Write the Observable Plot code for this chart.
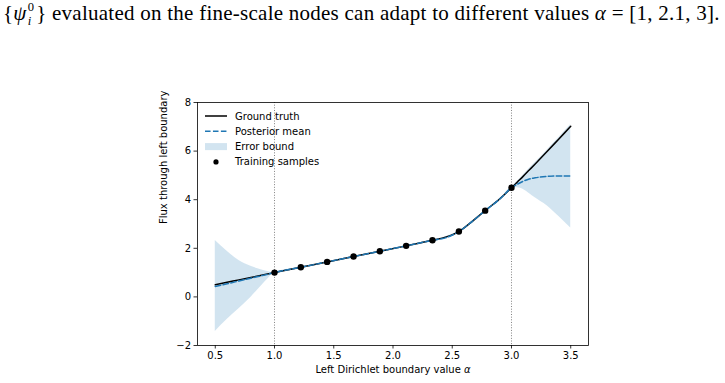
<!DOCTYPE html>
<html>
<head>
<meta charset="utf-8">
<script src="https://cdn.jsdelivr.net/npm/d3@7"></script>
<script src="https://cdn.jsdelivr.net/npm/@observablehq/plot@0.6"></script>
<style>
  html, body { margin: 0; padding: 0; background: #fff; }
  #page { position: relative; width: 725px; height: 383px; overflow: hidden; background: #fff; }
  #caption {
    position: absolute; left: 3px; top: 0px; height: 40px;
    white-space: nowrap; font-family: "Liberation Serif", "DejaVu Serif", serif;
    font-size: 21px; line-height: 1.2; color: #000;
  }
  #caption .ss { display: inline-block; font-size: 0.6em; line-height: 1.15; vertical-align: -0.45em; margin-left: 1px; margin-right: 2px; }
  #caption .ss span { display: block; }
  #chart { position: absolute; left: 0; top: 40px; }
</style>
</head>
<body>
<div id="page">
  <div id="caption"><span id="captionText">{<i>ψ</i><span class="ss"><span>0</span><span><i>i</i></span></span>} evaluated on the fine-scale nodes can adapt to different values <i>α</i> = [1, 2.1, 3].</span></div>
  <div id="chart"></div>
</div>
<script>
// Evaluation grid for the continuous curves (boundary value alpha)
const alphaGrid     = [0.5, 0.6, 0.7, 0.8, 0.9, 0.95, 1.0, 1.222, 1.444, 1.667, 1.889, 2.111, 2.333, 2.45, 2.556, 2.667, 2.778, 2.9, 3.0, 3.05, 3.1, 3.15, 3.2, 3.3, 3.4, 3.5];
// Reference flux through the left boundary
const groundTruth   = [0.50, 0.60, 0.70, 0.80, 0.90, 0.95, 1.00, 1.22, 1.44, 1.66, 1.88, 2.10, 2.33, 2.47, 2.69, 3.10, 3.55, 4.03, 4.49, 4.73, 4.97, 5.22, 5.47, 5.98, 6.50, 7.02];
// GP posterior mean
const posteriorMean = [0.43, 0.54, 0.655, 0.77, 0.885, 0.94, 1.00, 1.22, 1.44, 1.66, 1.88, 2.10, 2.33, 2.44, 2.69, 3.10, 3.55, 4.02, 4.49, 4.64, 4.76, 4.85, 4.90, 4.96, 4.98, 4.98];
// Lower / upper edges of the error bound
const errorLower    = [-1.42, -0.93, -0.49, -0.02, 0.51, 0.77, 1.00, 1.22, 1.44, 1.66, 1.88, 2.10, 2.33, 2.40, 2.69, 3.08, 3.55, 3.99, 4.49, 4.49, 4.42, 4.26, 4.08, 3.75, 3.31, 2.84];
const errorUpper    = [2.32, 1.88, 1.50, 1.26, 1.10, 1.04, 1.00, 1.22, 1.44, 1.66, 1.88, 2.10, 2.33, 2.49, 2.69, 3.12, 3.55, 4.05, 4.49, 4.76, 5.02, 5.28, 5.53, 6.04, 6.56, 7.09];

// Training samples
const trainAlpha = [1.0, 1.222, 1.444, 1.667, 1.889, 2.111, 2.333, 2.556, 2.778, 3.0];
const trainFlux  = [1.00, 1.22, 1.44, 1.66, 1.88, 2.10, 2.33, 2.69, 3.55, 4.49];

// Edges of the training range
const trainRange = [1.0, 3.0];

const xTicks = [0.5, 1.0, 1.5, 2.0, 2.5, 3.0, 3.5];
const yTicks = [-2, 0, 2, 4, 6, 8];

const xLabel = "Left Dirichlet boundary value α";
const yLabel = "Flux through left boundary";
const legendLabels = ["Ground truth", "Posterior mean", "Error bound", "Training samples"];

const C0 = "#1f77b4";

const curveRows = alphaGrid.map((a, i) => ({
  alpha: a, truth: groundTruth[i], mean: posteriorMean[i], lo: errorLower[i], hi: errorUpper[i]
}));
const sampleRows = trainAlpha.map((a, i) => ({ alpha: a, flux: trainFlux[i] }));

const chart = Plot.plot({
  width: 725,
  height: 343,
  marginLeft: 197,
  marginRight: 137,
  marginTop: 62,
  marginBottom: 38,
  style: { fontFamily: '"DejaVu Sans", sans-serif', fontSize: "10px", color: "#000", background: "#fff", overflow: "visible" },
  x: { domain: [0.35, 3.65] },
  y: { domain: [-2, 8] },
  marks: [
    Plot.areaY(curveRows, { x: "alpha", y1: "lo", y2: "hi", fill: C0, fillOpacity: 0.2, curve: "monotone-x" }),
    Plot.ruleX(trainRange, { stroke: "#808080", strokeWidth: 1, strokeDasharray: "1,1.65" }),
    Plot.line(curveRows, { x: "alpha", y: "truth", stroke: "#000", strokeWidth: 1.5, curve: "monotone-x" }),
    Plot.line(curveRows, { x: "alpha", y: "mean", stroke: C0, strokeWidth: 1.5, strokeDasharray: "5.55,2.4", curve: "monotone-x" }),
    Plot.dot(sampleRows, { x: "alpha", y: "flux", r: 3.2, fill: "#000", stroke: "none" }),
    Plot.frame({ stroke: "#000", strokeWidth: 0.8 }),
    Plot.axisX({ ticks: xTicks, tickFormat: d3.format(".1f"), tickSize: 3.5, tickPadding: 3, strokeWidth: 0.8, label: null }),
    Plot.axisY({ ticks: yTicks, tickFormat: d3.format("d"), tickSize: 3.5, tickPadding: 3, strokeWidth: 0.8, label: null }),
    Plot.text([xLabel], { text: d => d, frameAnchor: "bottom", dy: 27, fontSize: 10 }),
    Plot.text([yLabel], { text: d => d, frameAnchor: "left", dx: -34, rotate: -90, fontSize: 10 })
  ]
});

document.getElementById("chart").appendChild(chart);

// Italic math alpha in the x-axis label
d3.select(chart).selectAll("text").each(function () {
  const t = d3.select(this);
  if (this.textContent === xLabel) {
    t.text(null);
    t.append("tspan").text("Left Dirichlet boundary value ");
    t.append("tspan").attr("font-style", "italic").text("α");
  }
});

// Legend (upper-left, inside the axes, no frame)
const lg = d3.select(chart).append("g")
  .attr("font-family", '"DejaVu Sans", sans-serif')
  .attr("font-size", 10)
  .attr("text-anchor", "start")
  .attr("fill", "#000");
const lx0 = 205, lx1 = 227, ltx = 235, ly0 = 76, ldy = 15.3;
legendLabels.forEach((label, i) => {
  const y = ly0 + i * ldy;
  if (i === 0) {
    lg.append("line").attr("x1", lx0).attr("x2", lx1).attr("y1", y).attr("y2", y)
      .attr("stroke", "#000").attr("stroke-width", 1.5);
  } else if (i === 1) {
    lg.append("line").attr("x1", lx0).attr("x2", lx1).attr("y1", y).attr("y2", y)
      .attr("stroke", C0).attr("stroke-width", 1.5).attr("stroke-dasharray", "5.55,2.4");
  } else if (i === 2) {
    lg.append("rect").attr("x", lx0).attr("y", y - 3.5).attr("width", lx1 - lx0).attr("height", 7)
      .attr("fill", C0).attr("fill-opacity", 0.2);
  } else {
    lg.append("circle").attr("cx", (lx0 + lx1) / 2).attr("cy", y).attr("r", 2.6).attr("fill", "#000");
  }
  lg.append("text").attr("x", ltx).attr("y", y).attr("dy", "0.35em").attr("text-anchor", "start").text(label);
});

// Stretch the caption line to the full text width
const cap = document.getElementById("captionText");
const target = 717;
const w = cap.getBoundingClientRect().width;
const n = cap.textContent.length;
cap.style.letterSpacing = ((target - w) / n) + "px";
</script>
</body>
</html>
